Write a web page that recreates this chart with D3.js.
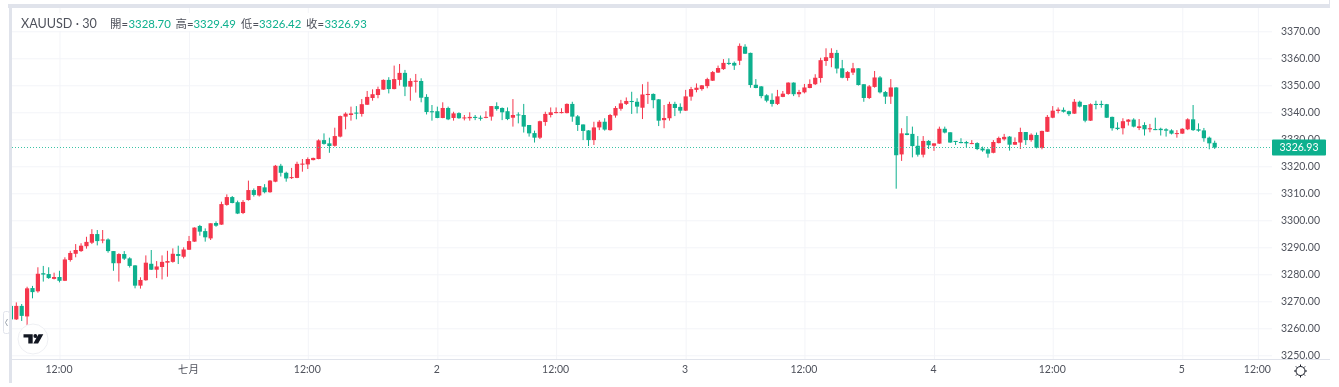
<!DOCTYPE html>
<html>
<head>
<meta charset="utf-8">
<script src="https://cdn.jsdelivr.net/npm/d3@7"></script>
<style>
  html, body { margin: 0; padding: 0; background: #ffffff; overflow: hidden; }
  svg { display: block; filter: blur(0.3px); }
</style>
</head>
<body>
<div id="wrapper"></div>
<script>
// XAUUSD 30 minute candles (one row = 10 bars)
const opens = [
  3268.3,3263.3,3268.3,3264.4,3274.9,3273.7,3280.4,3280.1,3278.3,3279.0,
  3277.6,3285.3,3287.6,3288.6,3290.4,3291.7,3294.9,3292.5,3292.9,3288.6,
  3284.1,3287.5,3285.9,3283.3,3275.8,3277.8,3283.9,3281.7,3282.7,3284.3,
  3284.6,3287.5,3286.5,3289.1,3292.1,3297.9,3296.0,3293.3,3299.0,3298.4,
  3305.7,3308.6,3306.7,3302.7,3307.5,3311.2,3309.2,3312.2,3310.4,3314.3,
  3320.2,3317.6,3315.7,3315.7,3320.6,3320.7,3322.3,3322.7,3329.7,3328.5,
  3327.6,3331.0,3338.4,3339.0,3339.9,3339.4,3342.8,3345.3,3346.4,3348.4,
  3352.0,3348.6,3352.0,3354.6,3349.5,3351.3,3351.6,3345.7,3340.4,3340.4,
  3337.9,3341.6,3337.9,3339.7,3337.8,3337.8,3338.3,3338.0,3338.0,3338.4,
  3342.3,3341.6,3340.4,3338.0,3339.2,3339.0,3335.3,3332.3,3330.6,3336.4,
  3339.0,3339.7,3339.7,3339.7,3343.1,3338.5,3335.5,3333.3,3329.7,3334.4,
  3336.5,3333.4,3338.8,3341.3,3343.1,3344.2,3343.9,3341.7,3346.4,3346.8,
  3344.8,3337.1,3337.8,3343.1,3342.0,3340.6,3345.8,3348.3,3348.6,3349.7,
  3351.7,3354.7,3356.0,3358.3,3358.3,3359.1,3364.3,3362.0,3350.2,3349.6,
  3346.3,3344.6,3343.1,3345.7,3346.8,3351.0,3346.7,3347.4,3349.0,3350.4,
  3352.7,3359.0,3360.1,3362.0,3356.3,3352.7,3354.7,3356.3,3350.4,3345.3,
  3349.4,3352.9,3347.5,3345.8,3349.2,3324.4,3332.2,3332.0,3327.6,3324.3,
  3329.4,3327.6,3328.4,3333.9,3332.6,3329.4,3329.0,3329.0,3328.3,3328.6,
  3326.6,3326.3,3325.0,3328.6,3330.0,3331.0,3328.0,3328.8,3332.7,3329.7,
  3331.6,3326.8,3332.8,3338.0,3340.5,3340.9,3340.4,3339.5,3343.9,3342.7,
  3336.9,3343.1,3343.1,3343.0,3338.3,3334.3,3334.1,3336.5,3337.3,3334.2,
  3335.3,3333.7,3333.8,3333.9,3333.7,3333.3,3332.0,3332.1,3333.7,3337.4,
  3333.7,3333.3,3330.6,3328.70];
const highs = [
  3268.3,3269.6,3269.0,3275.4,3275.7,3282.6,3283.1,3282.6,3280.6,3281.3,
  3286.3,3288.7,3291.2,3291.5,3293.9,3296.7,3296.4,3296.4,3293.3,3288.6,
  3287.8,3288.6,3286.3,3283.4,3278.9,3287.0,3289.0,3284.9,3287.0,3288.7,
  3289.6,3290.6,3290.0,3294.2,3297.4,3298.3,3297.0,3298.9,3299.6,3306.9,
  3309.6,3309.0,3307.3,3307.5,3314.7,3311.8,3312.7,3313.4,3314.9,3320.5,
  3320.9,3318.0,3319.4,3321.7,3322.7,3323.3,3323.2,3330.0,3332.2,3330.6,
  3334.3,3338.8,3340.0,3342.1,3342.3,3344.9,3347.9,3348.5,3349.5,3352.2,
  3353.0,3357.3,3357.9,3355.7,3352.6,3354.2,3352.6,3346.7,3342.7,3342.1,
  3343.7,3342.1,3340.2,3340.0,3339.0,3340.0,3339.0,3338.8,3340.4,3342.3,
  3343.7,3341.8,3341.8,3344.9,3340.0,3343.1,3335.3,3333.2,3336.9,3340.2,
  3341.8,3341.8,3341.5,3343.3,3343.9,3339.0,3335.5,3333.4,3336.5,3337.1,
  3337.8,3339.4,3342.3,3344.6,3345.5,3347.6,3345.2,3350.4,3351.3,3347.0,
  3344.9,3342.7,3343.9,3343.9,3343.3,3348.3,3349.4,3350.7,3350.1,3352.8,
  3355.3,3357.3,3359.7,3360.0,3358.8,3365.5,3365.2,3362.1,3352.3,3349.7,
  3346.7,3347.0,3348.3,3347.9,3351.1,3351.1,3348.3,3350.5,3352.2,3354.1,
  3360.2,3363.7,3363.7,3363.1,3359.4,3355.3,3358.3,3356.3,3350.4,3350.1,
  3355.3,3353.4,3347.9,3352.3,3349.3,3334.1,3338.6,3334.7,3331.2,3331.2,
  3329.7,3328.5,3334.7,3334.7,3332.6,3329.4,3330.4,3329.4,3329.7,3328.9,
  3327.3,3326.6,3329.7,3331.0,3332.0,3331.2,3330.7,3334.3,3332.7,3332.2,
  3332.5,3333.2,3339.0,3342.3,3341.8,3341.8,3340.6,3344.9,3344.3,3342.7,
  3343.3,3344.3,3344.3,3343.1,3338.4,3336.3,3337.8,3337.5,3337.8,3337.5,
  3336.3,3335.7,3338.0,3334.3,3334.1,3333.7,3333.4,3334.1,3337.8,3342.7,
  3335.9,3334.2,3331.0,3329.49];
const lows = [
  3263.3,3263.1,3262.7,3260.9,3271.1,3273.2,3277.3,3278.3,3278.1,3277.0,
  3277.5,3284.7,3286.3,3288.3,3289.5,3291.2,3290.7,3291.5,3288.0,3281.3,
  3277.3,3285.3,3282.5,3274.8,3274.7,3277.6,3281.6,3278.6,3278.1,3279.1,
  3284.3,3283.8,3285.9,3289.0,3292.0,3294.3,3292.1,3292.7,3297.6,3298.3,
  3305.4,3306.3,3302.3,3302.3,3307.3,3308.8,3308.8,3310.0,3310.2,3314.1,
  3316.2,3314.3,3315.3,3315.6,3318.0,3319.0,3322.2,3322.6,3328.0,3325.0,
  3327.3,3330.7,3333.7,3336.9,3337.4,3338.4,3342.7,3344.3,3345.2,3348.3,
  3347.0,3348.5,3349.9,3346.0,3344.3,3347.3,3343.7,3339.2,3336.9,3337.8,
  3337.8,3337.1,3336.9,3337.6,3337.0,3336.9,3337.1,3336.9,3337.8,3336.9,
  3340.6,3337.1,3337.1,3334.7,3335.9,3332.5,3331.0,3328.8,3330.1,3335.0,
  3338.1,3339.6,3339.6,3339.6,3336.5,3333.1,3329.7,3327.5,3327.9,3333.4,
  3333.2,3333.2,3338.0,3340.6,3342.7,3339.4,3339.6,3337.5,3343.1,3341.5,
  3334.9,3334.1,3336.9,3338.6,3339.6,3340.5,3344.3,3347.4,3348.0,3348.9,
  3351.6,3354.6,3355.7,3357.5,3355.7,3357.5,3361.6,3349.1,3348.9,3345.2,
  3343.7,3342.1,3342.7,3345.6,3346.5,3346.0,3345.6,3347.0,3348.9,3350.1,
  3351.0,3357.2,3356.7,3354.4,3352.6,3351.7,3353.8,3349.9,3343.9,3344.9,
  3349.1,3347.0,3343.1,3343.1,3311.7,3322.0,3331.5,3323.3,3323.6,3323.3,
  3326.4,3325.7,3328.3,3332.2,3328.7,3327.9,3328.5,3327.0,3328.2,3326.0,
  3325.4,3323.2,3324.8,3328.5,3329.5,3325.8,3327.9,3326.4,3327.9,3329.1,
  3326.6,3326.3,3332.7,3337.8,3339.6,3339.9,3338.6,3339.4,3341.8,3336.3,
  3336.8,3341.1,3341.7,3337.9,3333.2,3333.4,3331.8,3335.1,3334.4,3333.4,
  3331.4,3332.6,3333.4,3331.4,3331.0,3331.8,3330.6,3332.0,3333.4,3333.1,
  3332.8,3329.1,3326.3,3326.42];
const closes = [
  3263.3,3268.3,3264.6,3274.8,3273.4,3280.2,3279.9,3278.6,3279.0,3277.6,
  3285.5,3287.9,3289.0,3290.6,3292.0,3294.9,3292.3,3292.9,3288.6,3284.1,
  3287.5,3285.8,3283.1,3275.8,3277.9,3284.3,3281.7,3282.9,3284.6,3284.9,
  3287.6,3286.8,3289.2,3292.3,3297.3,3295.8,3293.7,3298.9,3298.0,3306.0,
  3308.6,3306.4,3302.5,3306.8,3311.2,3309.4,3312.7,3310.4,3314.7,3320.2,
  3317.6,3315.5,3316.0,3320.9,3321.0,3322.7,3323.1,3329.6,3328.3,3327.5,
  3331.2,3338.6,3339.5,3339.6,3339.5,3343.0,3345.7,3346.7,3348.6,3352.0,
  3348.6,3352.3,3354.6,3349.5,3351.6,3351.7,3345.4,3340.1,3340.0,3337.9,
  3341.6,3337.4,3339.6,3337.8,3338.1,3338.3,3337.9,3337.6,3338.3,3342.3,
  3341.2,3340.0,3337.5,3339.0,3338.9,3334.7,3332.2,3330.6,3336.7,3339.4,
  3340.0,3340.1,3340.1,3343.1,3338.4,3335.3,3333.1,3329.7,3334.4,3336.5,
  3333.6,3339.0,3341.6,3343.3,3344.2,3343.8,3342.1,3346.6,3346.8,3344.5,
  3336.9,3337.9,3343.1,3341.6,3340.6,3345.9,3348.6,3349.1,3350.0,3352.3,
  3354.9,3356.4,3358.3,3357.9,3357.3,3364.6,3361.7,3350.1,3349.0,3346.0,
  3344.3,3343.1,3345.9,3346.9,3351.0,3346.7,3347.5,3349.2,3350.5,3352.8,
  3359.3,3360.4,3362.0,3356.2,3352.8,3354.9,3356.3,3350.1,3345.3,3349.6,
  3352.9,3347.4,3345.8,3349.2,3324.1,3332.2,3331.6,3327.5,3324.3,3329.4,
  3327.8,3328.5,3333.9,3332.5,3328.8,3329.0,3328.6,3328.5,3328.6,3326.4,
  3325.9,3324.7,3329.0,3330.5,3330.9,3328.0,3329.0,3332.7,3329.7,3331.7,
  3326.9,3333.1,3338.3,3340.6,3341.0,3340.2,3339.3,3343.9,3342.1,3336.9,
  3343.0,3342.7,3342.7,3338.0,3334.1,3333.8,3336.7,3337.3,3334.7,3334.8,
  3333.7,3334.1,3333.4,3333.4,3333.2,3332.1,3332.3,3333.9,3337.4,3333.4,
  3333.2,3330.4,3328.5,3326.93];

const priceTicks = [3250,3260,3270,3280,3290,3300,3310,3320,3330,3340,3350,3360,3370];
const timeTickBars = [9,33,55,79,101,125,147,171,193,217,231];
const timeTickLabels = ["12:00","七月","12:00","2","12:00","3","12:00","4","12:00","5","12:00"];
const ohlcNames = ["開","高","低","收"];
const ohlcValues = ["3328.70","3329.49","3326.42","3326.93"];
const lastPrice = 3326.93;

function drawChart() {
  const width = 1339, height = 387;
  const up = "#f5364c", down = "#0db08e";
  const gridColor = "#f3f4f8", frameColor = "#e0e3eb", textColor = "#4f525c";
  const font = "Lato, 'Noto Sans CJK TC', sans-serif";

  const plot = { left: 12, right: 1272, top: 8, bottom: 359 };

  // 1. Scales: bar number to x, price to y
  const xScale = d3.scaleLinear().domain([0, 217]).range([10.9, 1182.3]);
  const yScale = d3.scaleLinear().domain([3250, 3370]).range([355.3, 31.3]);

  const svg = d3.select("#wrapper").append("svg")
    .attr("width", width).attr("height", height)
    .style("font-family", font);

  svg.append("defs").append("clipPath").attr("id", "plotClip")
    .append("rect")
    .attr("x", plot.left).attr("y", plot.top)
    .attr("width", plot.right - plot.left).attr("height", plot.bottom - plot.top);

  // 2. Grid, from the axis generators
  const gridY = svg.append("g").attr("transform", `translate(${plot.left},0)`)
    .call(d3.axisLeft(yScale).tickValues(priceTicks).tickFormat("")
      .tickSize(-(plot.right - plot.left)));
  gridY.select(".domain").remove();
  gridY.selectAll("line").attr("stroke", gridColor);

  const gridX = svg.append("g").attr("transform", `translate(0,${plot.bottom})`)
    .call(d3.axisTop(xScale).tickValues(timeTickBars).tickFormat("")
      .tickSize(plot.bottom - plot.top));
  gridX.select(".domain").remove();
  gridX.selectAll("line").attr("stroke", gridColor);

  // 3. Frame around the widget
  svg.append("rect").attr("x", 8).attr("y", 4).attr("width", 1321).attr("height", 4).attr("fill", frameColor);
  svg.append("rect").attr("x", 9).attr("y", 4).attr("width", 3).attr("height", 379).attr("fill", frameColor);
  svg.append("line").attr("x1", 1329.5).attr("x2", 1329.5).attr("y1", 0).attr("y2", 8).attr("stroke", frameColor);
  svg.append("line").attr("x1", plot.left).attr("x2", 1330)
    .attr("y1", plot.bottom + 0.5).attr("y2", plot.bottom + 0.5).attr("stroke", frameColor);

  // 4. Candles
  const bars = d3.range(opens.length);
  const candles = svg.append("g").attr("clip-path", "url(#plotClip)");
  const barColor = (i) => (closes[i] >= opens[i] ? up : down);

  candles.selectAll("line.wick").data(bars).join("line")
    .attr("class", "wick")
    .attr("x1", (i) => xScale(i)).attr("x2", (i) => xScale(i))
    .attr("y1", (i) => yScale(highs[i])).attr("y2", (i) => yScale(lows[i]))
    .attr("stroke", barColor).attr("stroke-width", 1);

  candles.selectAll("rect.body").data(bars).join("rect")
    .attr("class", "body")
    .attr("x", (i) => xScale(i) - 2.1)
    .attr("width", 4.2)
    .attr("y", (i) => yScale(Math.max(opens[i], closes[i])))
    .attr("height", (i) => Math.max(1, Math.abs(yScale(opens[i]) - yScale(closes[i]))))
    .attr("fill", barColor);

  // 5. Last price line, one pixel row and one colour so the dots stay teal
  const lastY = Math.floor(yScale(lastPrice)) + 0.5;
  d3.range(plot.left, plot.right, 3).forEach((x) => {
    svg.append("rect").attr("x", x).attr("y", lastY - 0.5)
      .attr("width", 1).attr("height", 1).attr("fill", "#3cc4a6");
  });

  // 6. Axes
  const yAxis = svg.append("g").attr("transform", "translate(1281,-0.5)")
    .call(d3.axisRight(yScale).tickValues(priceTicks).tickFormat(d3.format(".2f")).tickSize(0).tickPadding(0));
  yAxis.select(".domain").remove();
  yAxis.selectAll("text").style("font-size", "10.5px").style("font-family", font).attr("fill", textColor);

  const xAxis = svg.append("g").attr("transform", `translate(-1,${plot.bottom})`)
    .call(d3.axisBottom(xScale).tickValues(timeTickBars)
      .tickFormat((d, i) => timeTickLabels[i]).tickSize(0).tickPadding(7));
  xAxis.select(".domain").remove();
  xAxis.selectAll("text").style("font-size", "10.5px").style("font-family", font).attr("fill", textColor);

  // last price label on the axis
  svg.append("rect").attr("x", 1272).attr("y", yScale(lastPrice) - 8)
    .attr("width", 54).attr("height", 16).attr("rx", 1).attr("fill", down);
  svg.append("text").attr("x", 1299).attr("y", yScale(lastPrice))
    .attr("text-anchor", "middle").attr("dy", "0.35em")
    .attr("font-size", 10.5).attr("fill", "#ffffff").text(d3.format(".2f")(lastPrice));

  // 7. Header with the last bar values
  svg.append("rect").attr("x", plot.left).attr("y", 13).attr("width", 354).attr("height", 18).attr("fill", "#ffffff");
  svg.append("text").attr("x", 21).attr("y", 28).attr("font-size", 12.6)
    .attr("fill", textColor).text("XAUUSD · 30");

  const nameX = [110, 175.5, 241, 306];
  const valueX = [128.5, 193.5, 259, 324.5];
  ohlcNames.forEach((name, i) => {
    svg.append("text").attr("x", nameX[i]).attr("y", 28).attr("font-size", 11.4)
      .attr("fill", textColor).text(name + "=");
    svg.append("text").attr("x", valueX[i]).attr("y", 28).attr("font-size", 11.4)
      .attr("fill", down).text(ohlcValues[i]);
  });

  // 8. Small extras: side tab, logo, settings icon
  svg.append("rect").attr("x", 3.5).attr("y", 311.5).attr("width", 6).attr("height", 22).attr("rx", 2)
    .attr("fill", "#ffffff").attr("stroke", frameColor);
  svg.append("path").attr("d", "M7.5 319l-2 3.5l2 3.5").attr("fill", "none").attr("stroke", "#9aa3ad");

  svg.append("circle").attr("cx", 33).attr("cy", 339).attr("r", 15)
    .attr("fill", "#ffffff").attr("stroke", "#eeeff3");
  svg.append("path").attr("fill", "#131722")
    .attr("d", "M23.5 334.2h9.2v9.4h-4.4v-6h-4.8zM38.5 334.2h4.8l-5.2 9.4h-4.8zM35.3 334.1a1.9 1.9 0 1 1 0 3.8a1.9 1.9 0 1 1 0 -3.8z");

  const sun = svg.append("g").attr("transform", "translate(1300.5,371)");
  sun.append("circle").attr("r", 4.5).attr("fill", "none").attr("stroke", "#131722");
  sun.selectAll("line").data(d3.range(8)).join("line")
    .attr("x1", (d) => 4.5 * Math.cos(d * Math.PI / 4)).attr("y1", (d) => 4.5 * Math.sin(d * Math.PI / 4))
    .attr("x2", (d) => 6.5 * Math.cos(d * Math.PI / 4)).attr("y2", (d) => 6.5 * Math.sin(d * Math.PI / 4))
    .attr("stroke", "#131722");
}

drawChart();
</script>
</body>
</html>
